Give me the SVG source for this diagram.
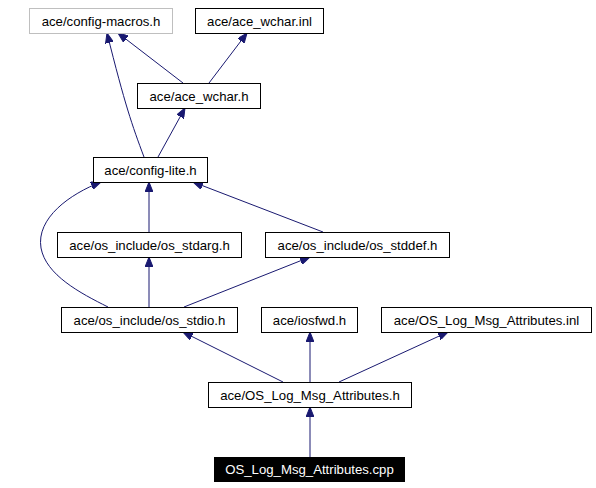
<svg xmlns="http://www.w3.org/2000/svg" width="596" height="488" viewBox="0 0 596 488">
<defs>
<style>
.n rect{fill:#fff;stroke:#000;stroke-width:1}
.n.g rect{stroke:#bfbfbf}
.n.dark rect{fill:#000}
.n text{font-family:"Liberation Sans",Arial,sans-serif;font-size:13.2px;text-anchor:middle;fill:#000}
.n.dark text{fill:#fff}
#edges path{fill:none;stroke:#191970;stroke-width:1;marker-end:url(#ah)}
</style>
<marker id="ah" viewBox="0 0 10 8" refX="10" refY="4" markerWidth="10" markerHeight="8" markerUnits="userSpaceOnUse" orient="auto">
<path d="M0,0 L10,4 L0,8 z" fill="#191970" stroke="#191970"/>
</marker>
</defs>
<rect width="596" height="488" fill="#fff"/>
<g id="edges">
<path d="M310,457 L310,407"/>
<path d="M283,382 L183,332"/>
<path d="M310,382 L310,332"/>
<path d="M339,382 L448,332"/>
<path d="M149,307 L149,257"/>
<path d="M184,307 L310,257"/>
<path d="M108,307 C80,293 46,275 41,248 C36,218 70,194 101,182"/>
<path d="M149,232 L149,182"/>
<path d="M323,232 L193,182"/>
<path d="M144,157 C132,125 125,105 107,33"/>
<path d="M158,157 L185,108"/>
<path d="M183,83 L118,33"/>
<path d="M209,83 L247,33"/>
</g>
<g id="config-macros" class="n g"><rect x="29.5" y="8.5" width="143" height="25"/><text x="101" y="25.5">ace/config-macros.h</text></g>
<g id="ace_wchar_inl" class="n"><rect x="195.5" y="8.5" width="128" height="25"/><text x="259.5" y="25.5">ace/ace_wchar.inl</text></g>
<g id="ace_wchar_h" class="n"><rect x="137.5" y="83.5" width="123" height="25"/><text x="199" y="100.5">ace/ace_wchar.h</text></g>
<g id="config-lite" class="n"><rect x="93.5" y="157.5" width="114" height="25"/><text x="150.5" y="174.5">ace/config-lite.h</text></g>
<g id="os_stdarg" class="n"><rect x="57.5" y="232.5" width="184" height="25"/><text x="149.5" y="249.5">ace/os_include/os_stdarg.h</text></g>
<g id="os_stddef" class="n"><rect x="265.5" y="232.5" width="184" height="25"/><text x="357.5" y="249.5">ace/os_include/os_stddef.h</text></g>
<g id="os_stdio" class="n"><rect x="61.5" y="307.5" width="176" height="25"/><text x="149.5" y="324.5">ace/os_include/os_stdio.h</text></g>
<g id="iosfwd" class="n"><rect x="261.5" y="307.5" width="96" height="25"/><text x="309.5" y="324.5">ace/iosfwd.h</text></g>
<g id="attr_inl" class="n"><rect x="381.5" y="307.5" width="210" height="25"/><text x="486.5" y="324.5">ace/OS_Log_Msg_Attributes.inl</text></g>
<g id="attr_h" class="n"><rect x="208.5" y="382.5" width="203" height="25"/><text x="310" y="399.5">ace/OS_Log_Msg_Attributes.h</text></g>
<g id="attr_cpp" class="n dark"><rect x="214.5" y="457.5" width="190" height="24"/><text x="309.5" y="474">OS_Log_Msg_Attributes.cpp</text></g>
</svg>
